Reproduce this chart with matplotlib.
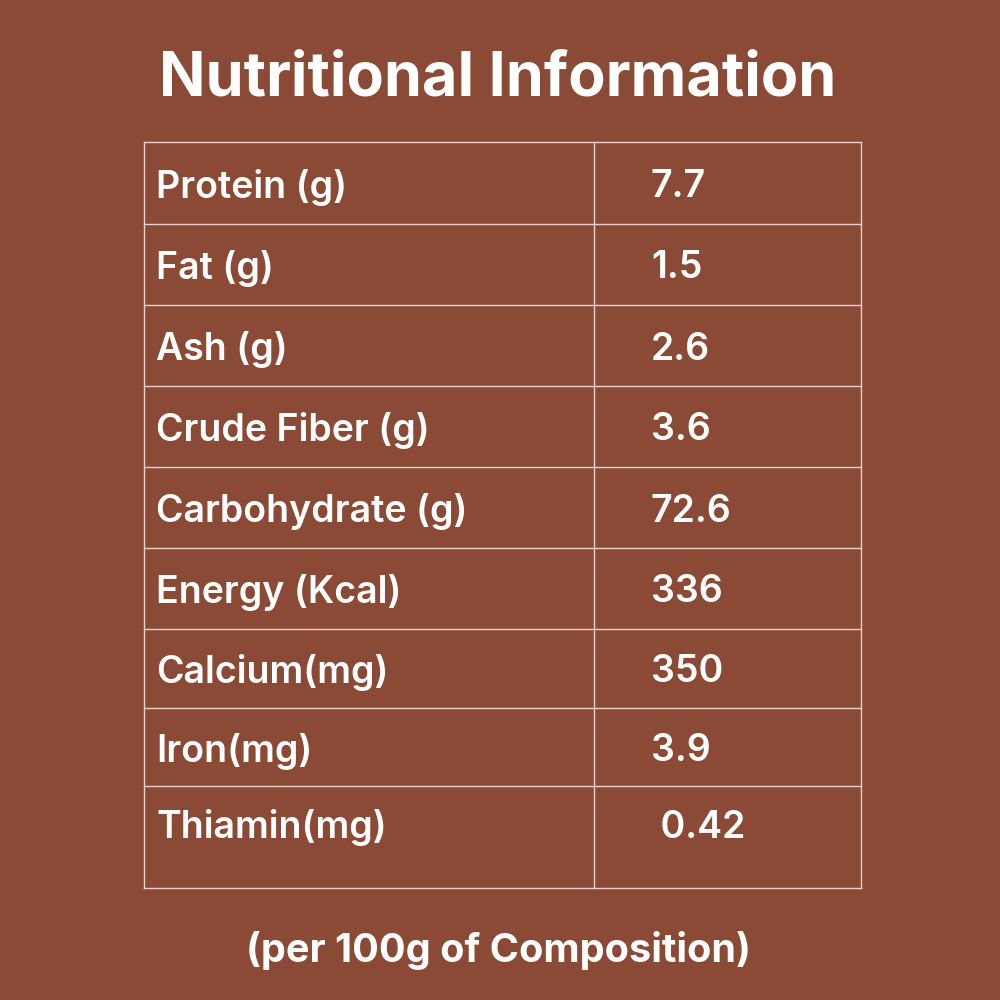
import matplotlib.pyplot as plt

nutrients = ["Protein (g)", "Fat (g)", "Ash (g)", "Crude Fiber (g)", "Carbohydrate (g)",
             "Energy (Kcal)", "Calcium(mg)", "Iron(mg)", "Thiamin(mg)"]
values = ["7.7", "1.5", "2.6", "3.6", "72.6", "336", "350", "3.9", " 0.42"]

title = "Nutritional Information"
footer = "(per 100g of Composition)"

bg = "#8a4a35"
line_col = "#e6d3cc"

# row boundaries in pixel space
row_edges = [142, 224, 305, 386, 467, 548, 629, 708, 786, 888]
x_left, x_mid, x_right = 144, 594, 861

fig = plt.figure(figsize=(10, 10), dpi=100, facecolor=bg)
ax = fig.add_axes([0, 0, 1, 1])
ax.set_xlim(0, 1000)
ax.set_ylim(1000, 0)
ax.set_facecolor(bg)
ax.axis("off")

font = "Inter"

ax.text(498, 80, title, ha="center", va="center", color="white",
        fontsize=44, fontweight="bold", family=font)

for y in row_edges:
    ax.plot([x_left, x_right], [y, y], color=line_col, lw=1)
for x in (x_left, x_mid, x_right):
    ax.plot([x, x], [row_edges[0], row_edges[-1]], color=line_col, lw=1)

for i, (name, val) in enumerate(zip(nutrients, values)):
    yc = (row_edges[i] + row_edges[i + 1]) / 2 + 4
    if i == len(nutrients) - 1:
        yc = row_edges[i] + 42
    ax.text(156, yc, name, ha="left", va="center", color="white",
            fontsize=27, fontweight="semibold", family=font)
    ax.text(651, yc, val, ha="left", va="center", color="white",
            fontsize=27, fontweight="semibold", family=font)

ax.text(498, 950, footer, ha="center", va="center", color="white",
        fontsize=28.5, fontweight="bold", family=font)

fig.savefig("out.png", dpi=100, facecolor=bg)
